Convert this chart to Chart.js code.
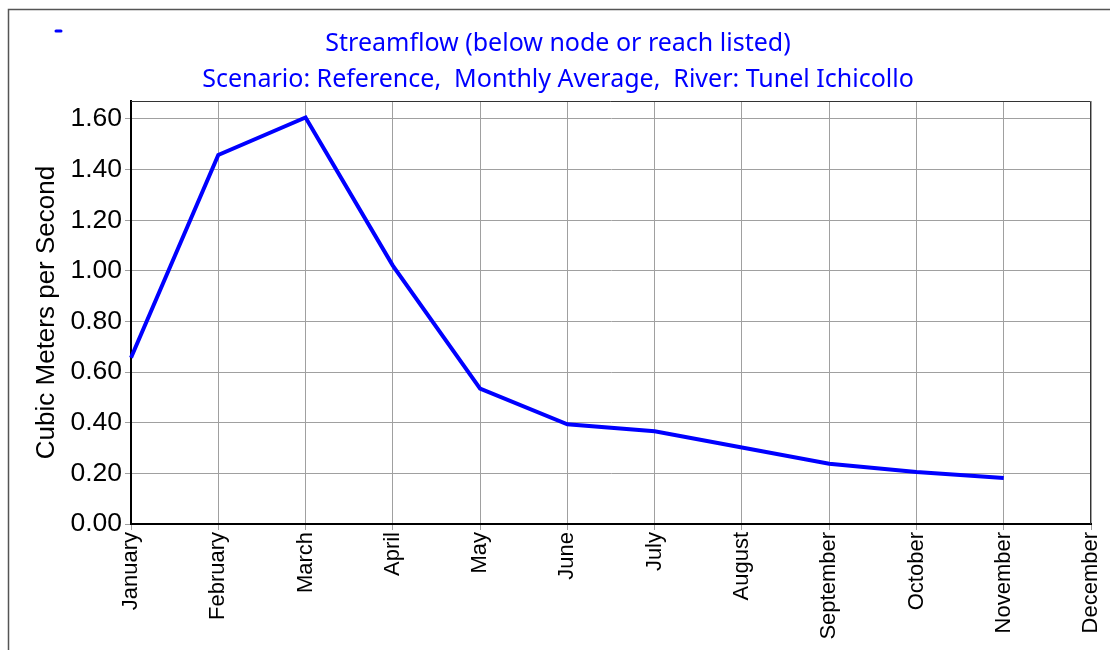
<!DOCTYPE html>
<html>
<head>
<meta charset="utf-8">
<script src="https://cdn.jsdelivr.net/npm/chart.js@4/dist/chart.umd.min.js"></script>
<style>
  html, body { margin: 0; padding: 0; background: #fff; }
  #wrap { width: 1110px; height: 650px; position: relative; }
</style>
</head>
<body>
<div id="wrap"><canvas id="flowChart"></canvas></div>
<script>
// --- data ---
const months = ['January', 'February', 'March', 'April', 'May', 'June',
                'July', 'August', 'September', 'October', 'November', 'December'];
const streamflow = [0.657, 1.458, 1.606, 1.021, 0.535, 0.394, 0.366, 0.302, 0.238, 0.205, 0.182, null];
const yTicks = [0, 0.2, 0.4, 0.6, 0.8, 1.0, 1.2, 1.4, 1.6];
const titleLines = ['Streamflow (below node or reach listed)',
                    'Scenario: Reference,  Monthly Average,  River: Tunel Ichicollo'];
const yTitle = 'Cubic Meters per Second';
const yMax = 1.671;

// outer frame, plot box, little legend dash
const framePlugin = {
    id: 'frame',
    beforeDraw(chart) {
        const ctx = chart.ctx;
        ctx.save();
        ctx.fillStyle = '#fff';
        ctx.fillRect(0, 0, chart.width, chart.height);
        ctx.strokeStyle = '#555';
        ctx.lineWidth = 1.5;
        ctx.strokeRect(8.5, 9.5, chart.width + 20, chart.height + 20);
        ctx.strokeStyle = '#0000ff';
        ctx.lineWidth = 3;
        ctx.lineCap = 'round';
        ctx.beginPath();
        ctx.moveTo(56, 31);
        ctx.lineTo(61, 31);
        ctx.stroke();
        ctx.restore();
    },
    beforeDatasetsDraw(chart) {
        const a = chart.chartArea;
        const ctx = chart.ctx;
        ctx.save();
        ctx.strokeStyle = '#333';
        ctx.lineWidth = 1;
        ctx.beginPath();
        ctx.moveTo(a.left, a.top + 0.5);
        ctx.lineTo(a.right - 0.5, a.top + 0.5);
        ctx.lineTo(a.right - 0.5, a.bottom);
        ctx.stroke();
        ctx.restore();
    }
};

window.addEventListener('DOMContentLoaded', () => {
    const ctx = document.getElementById('flowChart').getContext('2d');
    new Chart(ctx, {
        type: 'line',
        data: {
            labels: months,
            datasets: [{
                data: streamflow,
                borderColor: '#0000ff',
                borderWidth: 4,
                pointRadius: 0,
                tension: 0,
                spanGaps: false
            }]
        },
        options: {
            responsive: true,
            maintainAspectRatio: false,
            animation: false,
            layout: { padding: { top: 6, left: 25, right: 19, bottom: 0 } },
            plugins: {
                legend: { display: false },
                tooltip: { enabled: false },
                title: {
                    display: true,
                    text: titleLines,
                    color: '#0000ff',
                    font: { family: 'Noto Sans', size: 25, weight: 'normal', lineHeight: 1.44 },
                    padding: { top: 20, bottom: 3 }
                }
            },
            scales: {
                x: {
                    offset: false,
                    grid: { color: '#a0a0a0', lineWidth: 1, tickLength: 6 },
                    border: { color: '#000', width: 2 },
                    ticks: {
                        color: '#000',
                        maxRotation: 90,
                        minRotation: 90,
                        autoSkip: false,
                        padding: 2,
                        font: { family: 'Liberation Sans', size: 22 }
                    },
                    afterFit(scale) {
                        scale.height = 126;
                        scale.paddingLeft = 0;
                        scale.paddingRight = 0;
                    }
                },
                y: {
                    min: 0,
                    max: yMax,
                    grid: { color: '#a0a0a0', lineWidth: 1, tickLength: 6 },
                    border: { color: '#000', width: 2 },
                    ticks: {
                        color: '#000',
                        padding: 3,
                        font: { family: 'Liberation Sans', size: 26.5 },
                        callback: v => v.toFixed(2)
                    },
                    afterBuildTicks(scale) {
                        scale.ticks = yTicks.map(v => ({ value: v }));
                    },
                    title: {
                        display: true,
                        text: yTitle,
                        color: '#000',
                        font: { family: 'Liberation Sans', size: 26 },
                        padding: { top: 6, bottom: 0 }
                    },
                    afterFit(scale) {
                        scale.width = 106;
                        scale.paddingTop = 0;
                        scale.paddingBottom = 0;
                    }
                }
            }
        },
        plugins: [framePlugin]
    });
});
</script>
</body>
</html>
